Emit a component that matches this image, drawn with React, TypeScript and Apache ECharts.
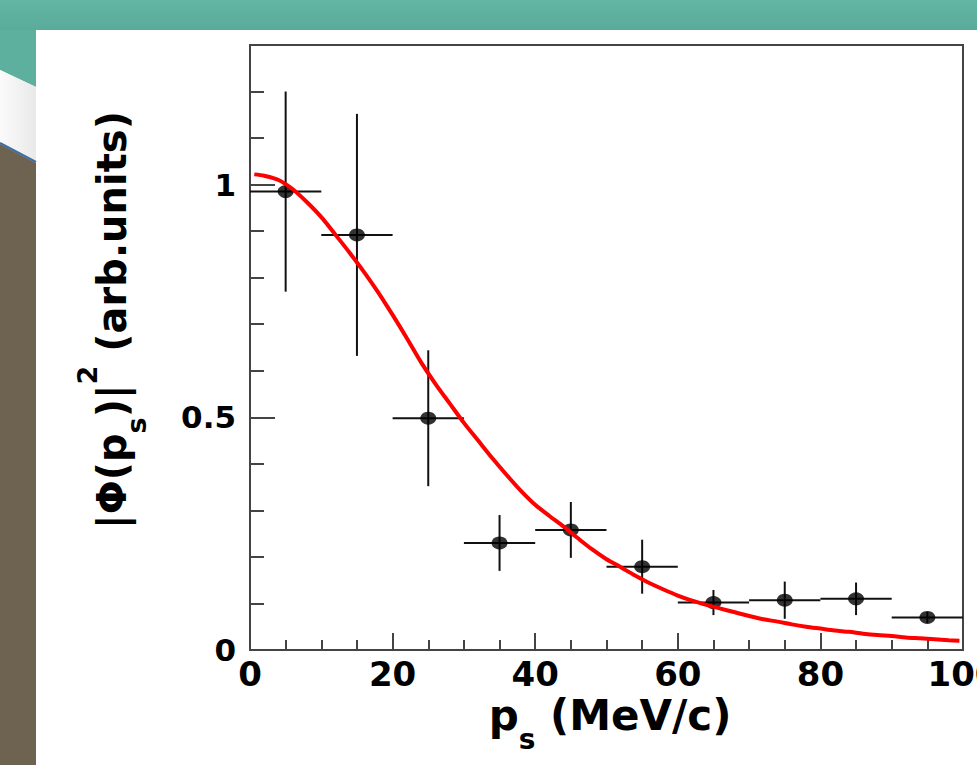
import React, { useEffect, useRef } from "react";
import * as echarts from "echarts";

// ---- data ----
const binCenters = [5, 15, 25, 35, 45, 55, 65, 75, 85, 95];
const binHalfWidths = [5, 5, 5, 5, 5, 5, 5, 5, 5, 5];
const measured = [0.985, 0.892, 0.498, 0.23, 0.258, 0.179, 0.102, 0.107, 0.11, 0.07];
const measuredErr = [0.215, 0.26, 0.146, 0.06, 0.06, 0.058, 0.027, 0.04, 0.035, 0.012];

const fitX = [0.6, 2, 4, 6, 8, 10, 12, 14, 16, 18, 20, 22, 24, 26, 28, 30, 32, 34, 36, 38, 40, 42, 44, 46, 48, 50, 52, 54, 56, 58, 60, 62, 64, 66, 68, 70, 72, 74, 76, 78, 80, 82, 84, 86, 88, 90, 92, 94, 96, 98, 99.5];
const fitY = [1.022, 1.019, 1.01, 0.99, 0.962, 0.93, 0.892, 0.853, 0.812, 0.768, 0.72, 0.67, 0.618, 0.572, 0.53, 0.488, 0.45, 0.412, 0.376, 0.342, 0.312, 0.288, 0.265, 0.24, 0.216, 0.195, 0.178, 0.16, 0.144, 0.13, 0.117, 0.106, 0.097, 0.089, 0.081, 0.073, 0.066, 0.061, 0.055, 0.05, 0.046, 0.042, 0.039, 0.035, 0.032, 0.03, 0.027, 0.025, 0.023, 0.021, 0.02];

const xTickValues = [0, 20, 40, 60, 80, 100];
const xTickLabels = ["0", "20", "40", "60", "80", "100"];
const yTickValues = [0, 0.5, 1];
const yTickLabels = ["0", "0.5", "1"];

const FONT = "DejaVu Sans";

export default function App() {
  const ref = useRef<HTMLDivElement>(null);

  useEffect(() => {
    if (!ref.current) return;
    const chart = echarts.init(ref.current, null, { renderer: "svg" });

    const errData = binCenters.map((x, i) => [x, measured[i], measuredErr[i], binHalfWidths[i]]);
    const ptData = binCenters.map((x, i) => [x, measured[i]]);
    const fitData = fitX.map((x, i) => [x, fitY[i]]);

    const labelFor = (vals: number[], labs: string[]) => (v: number) => {
      for (let i = 0; i < vals.length; i++) if (Math.abs(vals[i] - v) < 1e-6) return labs[i];
      return "";
    };

    const option: any = {
      animation: false,
      backgroundColor: "transparent",
      grid: {
        left: 250,
        right: 14,
        top: 45,
        bottom: 115,
        containLabel: false,
        outerBoundsMode: "none",
        show: true,
        borderColor: "#444",
        borderWidth: 2,
        backgroundColor: "transparent",
      },
      xAxis: {
        type: "value",
        min: 0,
        max: 100,
        interval: 20,
        axisLine: { show: true, lineStyle: { color: "#444", width: 2 } },
        axisTick: { show: true, inside: true, length: 17, lineStyle: { color: "#444", width: 2 } },
        minorTick: { show: true, splitNumber: 4, length: 10, lineStyle: { color: "#444", width: 2 } },
        splitLine: { show: false },
        minorSplitLine: { show: false },
        axisLabel: {
          margin: 8,
          color: "#000",
          fontFamily: FONT,
          fontWeight: "bold",
          fontSize: 34,
          lineHeight: 32,
          showMaxLabel: true,
          hideOverlap: false,
          formatter: labelFor(xTickValues, xTickLabels),
        },
      },
      yAxis: [
        {
          type: "value",
          min: 0,
          max: 1.3,
          interval: 0.5,
          axisLine: { show: true, lineStyle: { color: "#444", width: 2 } },
          axisTick: { show: true, inside: true, length: 25, lineStyle: { color: "#444", width: 2 } },
          splitLine: { show: false },
          axisLabel: {
            margin: 14,
            color: "#000",
            fontFamily: FONT,
            fontWeight: "bold",
            fontSize: 31,
            formatter: labelFor(yTickValues, yTickLabels),
          },
        },
        {
          type: "value",
          min: 0,
          max: 1.3,
          interval: 0.1,
          position: "left",
          axisLine: { show: false },
          axisTick: { show: true, inside: true, length: 14, lineStyle: { color: "#444", width: 2 } },
          splitLine: { show: false },
          axisLabel: { show: false },
        },
      ],
      graphic: [
        {
          type: "rect",
          z: -10,
          silent: true,
          shape: { x: 0, y: 0, width: 977, height: 30 },
          style: {
            fill: new echarts.graphic.LinearGradient(0, 0, 0, 1, [
              { offset: 0, color: "#63b6a4" },
              { offset: 1, color: "#5aab99" },
            ]),
          },
        },
        {
          type: "polygon",
          z: -10,
          silent: true,
          shape: { points: [[0, 30], [36, 30], [36, 87], [0, 70]] },
          style: { fill: "#5db09e" },
        },
        {
          type: "polygon",
          z: -10,
          silent: true,
          shape: { points: [[0, 70], [36, 87], [36, 163], [0, 144]] },
          style: {
            fill: new echarts.graphic.LinearGradient(0, 0, 1, 0, [
              { offset: 0, color: "#fbfbfb" },
              { offset: 1, color: "#e9e9e9" },
            ]),
          },
        },
        {
          type: "polygon",
          z: -10,
          silent: true,
          shape: { points: [[0, 144], [36, 163], [36, 765], [0, 765]] },
          style: { fill: "#6e6250" },
        },
        {
          type: "line",
          z: -9,
          silent: true,
          shape: { x1: 0, y1: 143, x2: 36, y2: 162 },
          style: { stroke: "#3d6ea3", lineWidth: 2 },
        },
        {
          type: "text",
          x: 610,
          y: 715,
          silent: true,
          style: {
            text: "{m|p}{sub|s}{m| (MeV/c)}",
            align: "center",
            verticalAlign: "middle",
            textAlign: "center",
            textVerticalAlign: "middle",
            fill: "#000",
            rich: {
              m: { fontFamily: FONT, fontWeight: "bold", fontSize: 42, lineHeight: 76, fill: "#000" },
              sub: { fontFamily: FONT, fontWeight: "bold", fontSize: 28, lineHeight: 28, verticalAlign: "bottom", fill: "#000" },
            },
          },
        },
        {
          type: "text",
          x: 112,
          y: 320,
          rotation: Math.PI / 2,
          silent: true,
          style: {
            text: "{m||Φ(p}{sub|s}{m|)|}{sup|2}{m| (arb.units)}",
            align: "center",
            verticalAlign: "middle",
            textAlign: "center",
            textVerticalAlign: "middle",
            fill: "#000",
            rich: {
              m: { fontFamily: FONT, fontWeight: "bold", fontSize: 40, lineHeight: 76, fill: "#000" },
              sub: { fontFamily: FONT, fontWeight: "bold", fontSize: 27, lineHeight: 28, verticalAlign: "bottom", fill: "#000" },
              sup: { fontFamily: FONT, fontWeight: "bold", fontSize: 27, lineHeight: 46, verticalAlign: "top", fill: "#000" },
            },
          },
        },
      ],
      series: [
        {
          type: "custom",
          name: "errors",
          xAxisIndex: 0,
          yAxisIndex: 0,
          data: errData,
          encode: { x: 0, y: 1 },
          z: 2,
          renderItem: (params: any, api: any) => {
            const x = api.value(0);
            const y = api.value(1);
            const e = api.value(2);
            const hw = api.value(3);
            const l = api.coord([x - hw, y]);
            const r = api.coord([x + hw, y]);
            const t = api.coord([x, y + e]);
            const b = api.coord([x, y - e]);
            const style = { stroke: "#111", lineWidth: 2 };
            return {
              type: "group",
              children: [
                { type: "line", shape: { x1: l[0], y1: l[1], x2: r[0], y2: r[1] }, style },
                { type: "line", shape: { x1: t[0], y1: t[1], x2: b[0], y2: b[1] }, style },
              ],
            };
          },
        },
        {
          type: "scatter",
          name: "data",
          xAxisIndex: 0,
          yAxisIndex: 0,
          data: ptData,
          symbol: "circle",
          symbolSize: [16, 13],
          itemStyle: { color: "#000" },
          z: 3,
        },
        {
          type: "line",
          name: "fit",
          xAxisIndex: 0,
          yAxisIndex: 0,
          data: fitData,
          showSymbol: false,
          symbol: "none",
          smooth: 0.3,
          lineStyle: { color: "#ff0000", width: 4 },
          z: 4,
        },
      ],
    };

    chart.setOption(option);
    return () => chart.dispose();
  }, []);

  return (
    <div
      ref={ref}
      style={{ position: "fixed", left: 0, top: 0, width: 977, height: 765, background: "#fff" }}
    />
  );
}
